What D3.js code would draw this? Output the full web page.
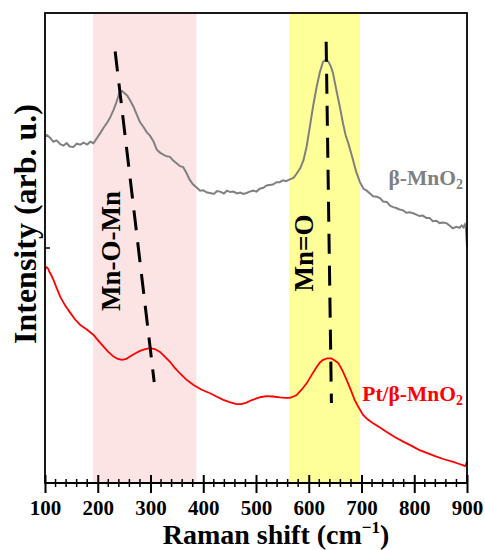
<!DOCTYPE html>
<html>
<head>
<meta charset="utf-8">
<style>
body { margin: 0; background: #fff; }
svg text { font-family: "Liberation Serif", "Times New Roman", serif; font-weight: bold; }
.xaxis text { font-size: 21px; fill: #000; }
.xaxis path, .xaxis line { stroke: #000; stroke-width: 2px; }
</style>
<script src="https://d3js.org/d3.v7.min.js"></script>
</head>
<body>
<svg width="485" height="550"></svg>
<script>
// Raman spectra, intensity in arbitrary units (0..100 over the plot height)
var mno2X = [100,104,110,116,122,129,135,141,147,154,160,167,173,180,186,192,198,205,211,218,224,230,236,241,246,252,256,261,268,274,280,287,293,299,306,312,318,325,331,337,343,350,356,362,368,374,380,388,394,400,407,413,420,426,432,439,445,451,457,464,470,476,482,488,495,501,507,514,520,526,532,539,545,551,557,564,571,577,584,590,596,602,608,615,621,627,632,637,642,646,652,659,665,670,675,682,690,697,704,710,716,722,729,735,741,748,754,760,766,772,779,785,791,798,804,810,816,823,829,835,842,848,854,861,867,873,880,886,890,893,896,898,900];
var mno2Y = [73.6,74.0,73.4,72.6,72.9,72.1,71.8,72.3,71.6,71.5,72.2,72.0,72.4,72.0,72.6,72.3,73.3,74.5,75.6,76.7,77.9,79.4,81.2,83.0,83.4,82.8,82.4,81.5,80.0,78.4,76.8,75.7,74.6,73.9,72.6,70.9,70.3,69.8,69.5,69.4,68.6,68.0,67.4,67.2,66.0,64.6,63.6,62.8,62.2,62.3,61.8,61.7,61.5,62.1,62.0,61.6,62.2,61.9,62.0,61.6,61.8,61.5,61.7,62.0,62.2,62.0,62.6,62.8,63.3,63.4,63.5,64.0,64.0,64.4,64.2,64.6,64.9,65.8,67.0,68.7,71.6,75.7,80.0,84.3,87.4,89.6,90.0,89.7,88.6,87.2,83.8,80.0,76.5,74.0,72.3,69.5,66.2,64.0,62.6,62.2,61.6,61.0,60.9,60.6,59.9,59.8,59.0,58.7,58.5,58.2,58.0,57.5,57.6,57.4,57.1,56.8,56.9,56.4,56.4,55.7,55.8,55.3,55.4,55.3,54.8,54.2,54.5,54.3,54.8,54.4,55.0,54.0,50.2];

var ptX = [100,103,106,108,112,116,122,129,138,148,157,167,180,192,201,211,220,230,238,246,254,261,270,280,290,299,308,318,327,337,346,356,368,381,396,413,425,438,450,463,472,482,491,501,510,520,532,545,555,564,571,577,586,596,605,615,621,627,635,643,650,656,664,672,680,687,695,703,712,722,735,747,763,779,795,810,826,842,858,874,884,892,896,898,900];
var ptY = [45.5,45.9,45.6,45.0,44.2,43.2,41.5,39.6,37.8,36.2,34.8,33.6,32.6,31.5,30.3,29.0,27.9,26.9,26.4,26.2,26.4,26.9,27.5,28.1,28.5,28.7,28.5,27.9,26.9,25.8,24.5,23.3,22.0,20.9,19.9,19.1,18.4,17.7,17.2,16.8,16.8,17.1,17.6,18.0,18.3,18.5,18.4,18.2,18.1,18.1,18.4,18.7,19.8,21.2,22.9,24.7,25.6,26.2,26.5,26.5,26.0,25.5,23.9,21.9,19.7,17.7,16.0,14.5,13.5,12.7,11.8,10.9,9.8,8.8,7.9,7.0,6.3,5.6,5.0,4.5,4.1,3.8,3.6,3.9,4.6];

// shaded bands [from, to]
var bandRanges = [[191, 387], [563, 697]];
var bandColors = ["#fde4e4", "#ffff99"];

// dashed guide lines [x1, y1, x2, y2]
var guides = [[233, 91.8, 307, 21.5], [633, 93.9, 643, 17.0]];

var xTicks = [100, 200, 300, 400, 500, 600, 700, 800, 900];

var svg = d3.select("svg");
var mLeft = 45, mRight = 467, mTop = 13, mBottom = 483;

var x = d3.scaleLinear().domain([100, 900]).range([mLeft, mRight]);
var y = d3.scaleLinear().domain([0, 100]).range([mBottom, mTop]);

svg.selectAll("rect.band")
    .data(bandRanges)
  .enter().append("rect")
    .attr("class", "band")
    .attr("x", function(d) { return x(d[0]); })
    .attr("width", function(d) { return x(d[1]) - x(d[0]); })
    .attr("y", y(100))
    .attr("height", y(0) - y(100))
    .attr("fill", function(d, i) { return bandColors[i]; });

var line = d3.line()
    .x(function(d) { return x(d[0]); })
    .y(function(d) { return y(d[1]); });

svg.append("path")
    .datum(d3.zip(mno2X, mno2Y))
    .attr("d", line)
    .attr("fill", "none")
    .attr("stroke", "#808080")
    .attr("stroke-width", 2);

svg.append("path")
    .datum(d3.zip(ptX, ptY))
    .attr("d", line)
    .attr("fill", "none")
    .attr("stroke", "#ff0000")
    .attr("stroke-width", 1.8);

svg.selectAll("line.guide")
    .data(guides)
  .enter().append("line")
    .attr("class", "guide")
    .attr("x1", function(d) { return x(d[0]); })
    .attr("y1", function(d) { return y(d[1]); })
    .attr("x2", function(d) { return x(d[2]); })
    .attr("y2", function(d) { return y(d[3]); })
    .attr("stroke", "#000")
    .attr("stroke-width", 3)
    .attr("stroke-dasharray", "20,12");

// frame
svg.append("rect")
    .attr("x", mLeft).attr("y", mTop)
    .attr("width", mRight - mLeft).attr("height", mBottom - mTop)
    .attr("fill", "none").attr("stroke", "#000").attr("stroke-width", 1.8);

// y tick (single, inward)
svg.append("line")
    .attr("x1", mLeft).attr("x2", mLeft + 5)
    .attr("y1", y(50)).attr("y2", y(50))
    .attr("stroke", "#000").attr("stroke-width", 1.5);

// x axis
var xAxis = svg.append("g")
    .attr("class", "xaxis")
    .attr("transform", "translate(0," + mBottom + ")")
    .call(d3.axisBottom(x).tickValues(xTicks).tickSize(10).tickPadding(7).tickFormat(d3.format("d")));
xAxis.select(".domain").remove();
xAxis.selectAll(".tick line").attr("y1", -8);

var minor = d3.range(100, 901, 20).filter(function(v) { return v % 100 != 0; });
svg.selectAll("line.minor")
    .data(minor)
  .enter().append("line")
    .attr("class", "minor")
    .attr("x1", function(d) { return x(d); })
    .attr("x2", function(d) { return x(d); })
    .attr("y1", mBottom - 4).attr("y2", mBottom + 4)
    .attr("stroke", "#000").attr("stroke-width", 1.5);

svg.append("line")
    .attr("x1", mLeft).attr("x2", mRight)
    .attr("y1", mBottom).attr("y2", mBottom)
    .attr("stroke", "#000").attr("stroke-width", 2);

// axis titles
var xt = svg.append("text")
    .attr("x", 276).attr("y", 544)
    .attr("text-anchor", "middle")
    .attr("font-size", 28);
xt.append("tspan").text("Raman shift (cm");
xt.append("tspan").attr("font-size", 17).attr("dy", -11).text("\u22121");
xt.append("tspan").attr("dy", 11).text(")");

svg.append("text")
    .attr("transform", "translate(36,224) rotate(-90)")
    .attr("text-anchor", "middle")
    .attr("font-size", 32)
    .text("Intensity (arb. u.)");

// band annotations
svg.append("text")
    .attr("transform", "translate(120,251) rotate(-90)")
    .attr("text-anchor", "middle")
    .attr("font-size", 27)
    .text("Mn-O-Mn");

svg.append("text")
    .attr("transform", "translate(313,253) rotate(-90)")
    .attr("text-anchor", "middle")
    .attr("font-size", 27)
    .text("Mn=O");

// series labels
var l1 = svg.append("text")
    .attr("x", 463).attr("y", 185)
    .attr("text-anchor", "end")
    .attr("font-size", 21.5)
    .attr("fill", "#808080");
l1.append("tspan").text("\u03b2-MnO");
l1.append("tspan").attr("font-size", 14).attr("dy", 4).text("2");

var l2 = svg.append("text")
    .attr("x", 463).attr("y", 401)
    .attr("text-anchor", "end")
    .attr("font-size", 21.5)
    .attr("fill", "#ff0000");
l2.append("tspan").text("Pt/\u03b2-MnO");
l2.append("tspan").attr("font-size", 14).attr("dy", 4).text("2");
</script>
</body>
</html>
